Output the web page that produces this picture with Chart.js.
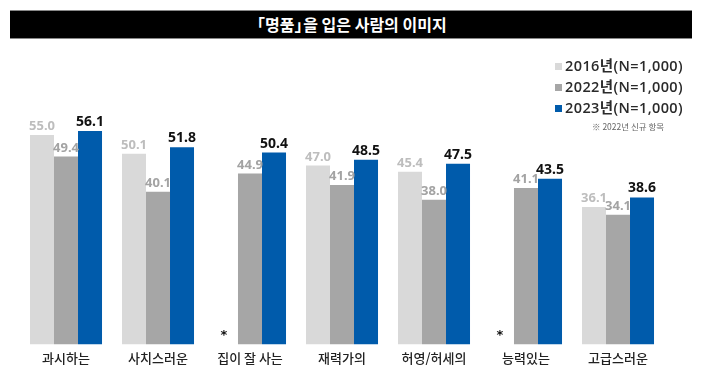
<!DOCTYPE html>
<html><head><meta charset="utf-8">
<script src="https://cdn.jsdelivr.net/npm/chart.js@4"></script>
<style>
html,body{margin:0;padding:0;background:#fff;}
#wrap{position:relative;width:702px;height:381px;font-family:"Noto Sans CJK KR","Noto Sans",sans-serif;}
#title{position:absolute;left:10px;top:10px;width:682px;height:27px;background:#000;border-top:1px solid #888;border-bottom:1px solid #888;color:#fff;font-size:16px;line-height:27px;text-align:center;font-weight:700;}
.bl{margin-left:-0.4em;}
.br{margin-right:-0.45em;}
#legend{position:absolute;left:555px;top:55px;font-size:14.5px;color:#2a2a2a;font-family:"Open Sans","Noto Sans CJK KR",sans-serif;font-weight:600;letter-spacing:0.4px;}
.li{height:21px;line-height:21px;white-space:nowrap;}
.sw{display:inline-block;width:7px;height:7px;margin-right:3px;vertical-align:1px;}
#note{font-size:8.5px;color:#666;margin-left:37px;margin-top:2px;font-family:"Noto Sans CJK KR",sans-serif;font-weight:400;letter-spacing:0;}
canvas{position:absolute;left:0;top:0;}
</style></head>
<body>
<div id="wrap">
<canvas id="c" width="702" height="381"></canvas>
<div id="title"><span class="bl">「</span>명품<span class="br">」</span>을 입은 사람의 이미지</div>
<div id="legend"></div>
</div>
<script>
const categories = ["과시하는","사치스러운","집이 잘 사는","재력가의","허영/허세의","능력있는","고급스러운"];
const seriesNames = ["2016년(N=1,000)","2022년(N=1,000)","2023년(N=1,000)"];
const values2016 = [55.0, 50.1, null, 47.0, 45.4, null, 36.1];
const values2022 = [49.4, 40.1, 44.9, 41.9, 38.0, 41.1, 34.1];
const values2023 = [56.1, 51.8, 50.4, 48.5, 47.5, 43.5, 38.6];
const colors = ["#d9d9d9","#a6a6a6","#005bab"];
const labelColors = ["#bdbdbd","#a3a3a3","#111111"];
const noteText = "※ 2022년 신규 항목";

const lg = document.getElementById('legend');
seriesNames.forEach((n,i)=>{
  const d=document.createElement('div');d.className='li';
  d.innerHTML='<span class="sw" style="background:'+colors[i]+'"></span>'+n;
  lg.appendChild(d);
});
const nt=document.createElement('div');nt.id='note';nt.textContent=noteText;lg.appendChild(nt);

const labelPlugin = {
  id:'vals',
  afterDatasetsDraw(chart){
    const ctx=chart.ctx;
    chart.data.datasets.forEach((ds,di)=>{
      const meta=chart.getDatasetMeta(di);
      meta.data.forEach((bar,i)=>{
        const v=ds.data[i];
        ctx.save();
        ctx.textAlign='center';ctx.textBaseline='bottom';
        if(v===null){
          ctx.fillStyle='#111';
          ctx.font='bold 13px "DejaVu Sans",sans-serif';
          ctx.fillText('*', bar.x-2, chart.scales.y.getPixelForValue(0)-2);
        } else {
          ctx.fillStyle=labelColors[di];
          ctx.font=(di===2?'bold 14px':'bold 13px')+' "Noto Sans","DejaVu Sans",sans-serif';
          ctx.fillText(v.toFixed(1), bar.x, bar.y-2);
        }
        ctx.restore();
      });
    });
  }
};

new Chart(document.getElementById('c'),{
  type:'bar',
  data:{labels:categories,datasets:[
    {label:seriesNames[0],data:values2016,backgroundColor:colors[0]},
    {label:seriesNames[1],data:values2022,backgroundColor:colors[1]},
    {label:seriesNames[2],data:values2023,backgroundColor:colors[2]}
  ]},
  options:{
    responsive:false,animation:false,
    layout:{padding:{left:20,right:38,top:59,bottom:9}},
    datasets:{bar:{categoryPercentage:0.783,barPercentage:1}},
    plugins:{legend:{display:false},tooltip:{enabled:false}},
    scales:{
      x:{grid:{display:false,drawTicks:false},border:{display:false},
        ticks:{color:'#222',padding:6,font:{size:13,weight:'500',family:'"Noto Sans CJK KR",sans-serif'}}},
      y:{display:false,min:0,max:75}
    }
  },
  plugins:[labelPlugin]
});
</script>
</body></html>
